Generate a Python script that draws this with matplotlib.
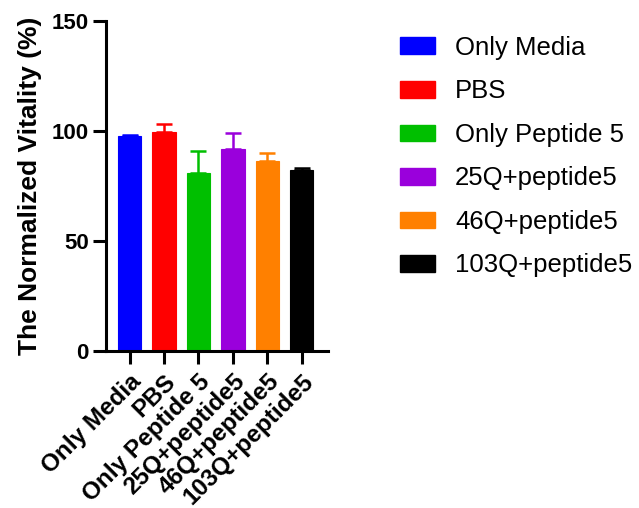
import matplotlib
matplotlib.use("Agg")
import matplotlib.pyplot as plt
from matplotlib.patches import Patch

plt.rcParams['font.family'] = ['Liberation Sans', 'DejaVu Sans']

categories = ["Only Media", "PBS", "Only Peptide 5", "25Q+peptide5",
              "46Q+peptide5", "103Q+peptide5"]
vitality = [97.9, 99.7, 80.8, 91.7, 86.5, 82.3]
sem = [0.3, 3.3, 10.1, 7.2, 3.3, 0.7]
colors = ["#0000FF", "#FF0000", "#00BF00", "#9A00DC", "#FF8000", "#000000"]
yticks = [0, 50, 100, 150]

fig = plt.figure(figsize=(6.39, 5.08), dpi=100)
ax = fig.add_axes([0.166, 0.309, 0.347, 0.650])

x = list(range(len(categories)))
ax.bar(x, vitality, width=0.67, color=colors, edgecolor=colors, linewidth=0.8,
       zorder=2)
for xi, v, e, c in zip(x, vitality, sem, colors):
    ax.errorbar(xi, v, yerr=[[0], [e]], fmt='none', ecolor=c, elinewidth=1.8,
                capsize=6, capthick=1.8, zorder=3)

ax.set_xlim(-0.68, 5.75)
ax.set_ylim(0, 150)
ax.set_yticks(yticks)
ax.set_xticks(x)
ax.set_xticklabels(categories, rotation=45, ha='right', rotation_mode='anchor',
                   fontsize=17.5, fontweight='bold')
ax.tick_params(axis='y', labelsize=16)
for lab in ax.get_yticklabels():
    lab.set_fontweight('bold')
ax.tick_params(axis='both', direction='out', length=9.5, width=2.2, pad=3)
ax.tick_params(axis='x', pad=4)
for side in ('top', 'right'):
    ax.spines[side].set_visible(False)
for side in ('left', 'bottom'):
    ax.spines[side].set_linewidth(2.2)
ax.set_ylabel("The Normalized Vitality (%)", fontsize=19, fontweight='bold',
              labelpad=7)

handles = [Patch(facecolor=c, edgecolor=c) for c in colors]
fig.legend(handles, categories, loc='upper left',
           bbox_to_anchor=(0.59, 0.975), frameon=False, fontsize=18.5,
           handlelength=1.36, handleheight=0.62, handletextpad=0.78,
           labelspacing=0.76)

fig.savefig("out.png", dpi=100)
